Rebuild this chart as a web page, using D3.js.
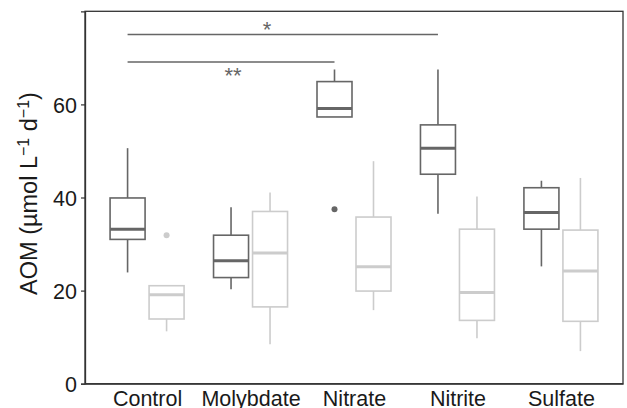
<!DOCTYPE html>
<html>
<head>
<meta charset="utf-8">
<script src="https://cdn.jsdelivr.net/npm/d3@7"></script>
<style>
  body { margin: 0; background: #fff; }
  svg { display: block; font-family: "Liberation Sans", Arial, sans-serif; }
</style>
</head>
<body>
<svg id="chart" width="627" height="408"></svg>
<script>
// treatments on the x axis
var categories = ["Control", "Molybdate", "Nitrate", "Nitrite", "Sulfate"];
var yTicks = [0, 20, 40, 60];

// box stats per treatment: [whiskerLow, q1, median, q3, whiskerHigh]
var darkStats = [
  [23.9, 31.0, 33.2, 39.9, 50.6],
  [20.3, 22.8, 26.4, 31.9, 37.9],
  [57.3, 57.3, 59.1, 64.9, 67.5],
  [36.5, 45.0, 50.6, 55.6, 67.5],
  [25.2, 33.2, 36.8, 42.1, 43.6]
];
var lightStats = [
  [11.25, 13.9, 19.1, 21.05, 21.05],
  [8.5, 16.5, 28.1, 37.0, 41.1],
  [15.8, 19.9, 25.1, 35.8, 47.8],
  [9.75, 13.6, 19.6, 33.2, 40.2],
  [7.0, 13.4, 24.2, 33.0, 44.2]
];
// outliers: [category, value]
var darkOutliers = [["Nitrate", 37.5]];
var lightOutliers = [["Control", 31.9]];

// significance brackets (dark boxes), label x in category units (1 = Control)
var sigFrom = ["Control", "Control"];
var sigTo = ["Nitrite", "Nitrate"];
var sigY = [75.0, 69.1];
var sigLabels = ["*", "**"];
var sigLabelX = [2.16, 1.83];
var sigAbove = [true, false];

var svg = d3.select("#chart");
var mLeft = 85, mRight = 623, mTop = 11.3, mBottom = 383.7;
var dark = "#666666", light = "#cccccc";
var boxW = 35, dodge = 19.5;

var x = d3.scalePoint().domain(categories).range([mLeft, mRight]).padding(0.6);
var y = d3.scaleLinear().domain([0, 80]).range([mBottom, mTop]);
var step = x.step();
function xc(pos) { return x(categories[0]) + (pos - 1) * step; }

// panel border
svg.append("rect")
  .attr("x", mLeft).attr("y", mTop)
  .attr("width", mRight - mLeft).attr("height", mBottom - mTop)
  .attr("fill", "none").attr("stroke", "#333").attr("stroke-width", 1.3);

// y axis
var yAxis = svg.append("g")
  .attr("transform", "translate(" + mLeft + ",0)")
  .call(d3.axisLeft(y).tickValues(yTicks).tickSize(4).tickPadding(4));
yAxis.select(".domain").attr("stroke", "#333").attr("stroke-width", 1.3);
yAxis.selectAll(".tick line").attr("stroke", "#333").attr("stroke-width", 1.2);
yAxis.selectAll(".tick text").attr("font-size", "21.5px").attr("fill", "#1a1a1a")
  .attr("font-family", "Liberation Sans, Arial, sans-serif").attr("dy", "0.36em");

// x axis (labels only)
var xAxis = svg.append("g")
  .attr("transform", "translate(0," + mBottom + ")")
  .call(d3.axisBottom(x).tickSize(0).tickPadding(7));
xAxis.select(".domain").attr("stroke", "#333").attr("stroke-width", 1.3);
xAxis.selectAll(".tick text").attr("font-size", "21.5px").attr("fill", "#1a1a1a")
  .attr("font-family", "Liberation Sans, Arial, sans-serif");

// y title
var yt = svg.append("text")
  .attr("transform", "translate(37," + ((mTop + mBottom) / 2 - 4) + ") rotate(-90)")
  .attr("text-anchor", "middle")
  .attr("font-size", "23.5px")
  .attr("fill", "#1a1a1a");
yt.append("tspan").text("AOM (\u00b5mol L");
yt.append("tspan").attr("baseline-shift", "super").attr("font-size", "16px").text("\u22121");
yt.append("tspan").text(" d");
yt.append("tspan").attr("baseline-shift", "super").attr("font-size", "16px").text("\u22121");
yt.append("tspan").text(")");

function drawBoxes(stats, offset, color) {
  var g = svg.append("g");
  var groups = g.selectAll("g").data(stats).enter().append("g")
    .attr("transform", function (d, i) { return "translate(" + (x(categories[i]) + offset) + ",0)"; });
  groups.append("line")
    .attr("x1", 0).attr("x2", 0)
    .attr("y1", function (d) { return y(d[3]); })
    .attr("y2", function (d) { return y(d[4]); })
    .attr("stroke", color).attr("stroke-width", 1.6);
  groups.append("line")
    .attr("x1", 0).attr("x2", 0)
    .attr("y1", function (d) { return y(d[0]); })
    .attr("y2", function (d) { return y(d[1]); })
    .attr("stroke", color).attr("stroke-width", 1.6);
  groups.append("rect")
    .attr("x", -boxW / 2).attr("width", boxW)
    .attr("y", function (d) { return y(d[3]); })
    .attr("height", function (d) { return y(d[1]) - y(d[3]); })
    .attr("fill", "#fff").attr("stroke", color).attr("stroke-width", 1.6);
  groups.append("line")
    .attr("x1", -boxW / 2).attr("x2", boxW / 2)
    .attr("y1", function (d) { return y(d[2]); })
    .attr("y2", function (d) { return y(d[2]); })
    .attr("stroke", color).attr("stroke-width", 3);
}

drawBoxes(darkStats, -dodge, dark);
drawBoxes(lightStats, dodge, light);

svg.selectAll(".out-dark").data(darkOutliers).enter().append("circle")
  .attr("cx", function (d) { return x(d[0]) - dodge; })
  .attr("cy", function (d) { return y(d[1]); })
  .attr("r", 3).attr("fill", dark);
svg.selectAll(".out-light").data(lightOutliers).enter().append("circle")
  .attr("cx", function (d) { return x(d[0]) + dodge; })
  .attr("cy", function (d) { return y(d[1]); })
  .attr("r", 3).attr("fill", light);

// significance lines
sigY.forEach(function (v, i) {
  svg.append("line")
    .attr("x1", x(sigFrom[i]) - dodge).attr("x2", x(sigTo[i]) - dodge)
    .attr("y1", y(v)).attr("y2", y(v))
    .attr("stroke", dark).attr("stroke-width", 1.5);
  svg.append("text")
    .attr("x", xc(sigLabelX[i]))
    .attr("y", y(v) + (sigAbove[i] ? 2 : 21))
    .attr("text-anchor", "middle")
    .attr("font-size", "22px")
    .attr("fill", dark)
    .text(sigLabels[i]);
});
</script>
</body>
</html>
